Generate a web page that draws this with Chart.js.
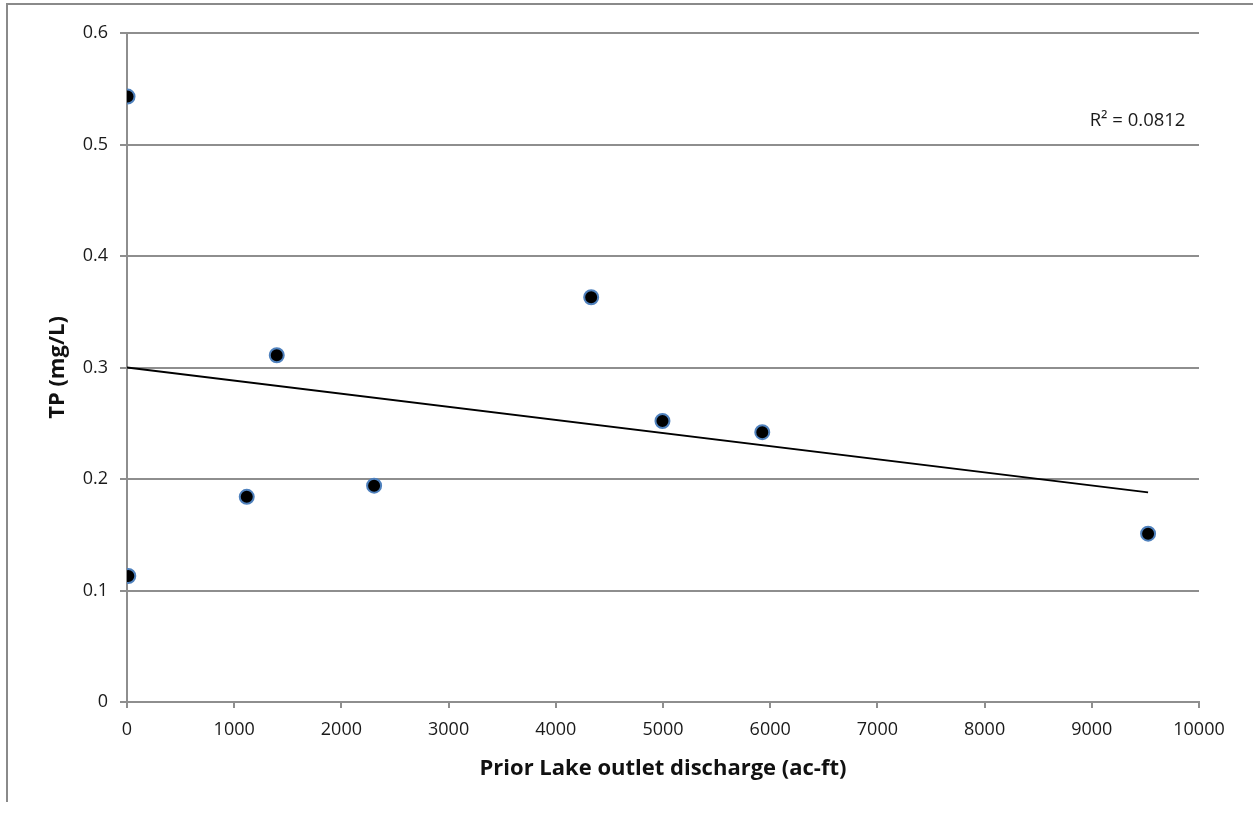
<!DOCTYPE html>
<html>
<head>
<meta charset="utf-8">
<script src="https://cdn.jsdelivr.net/npm/chart.js@4/dist/chart.umd.min.js"></script>
<style>
  html, body { margin: 0; padding: 0; background: #fff; }
  #wrap { position: relative; width: 1253px; height: 814px; overflow: hidden; }
  #frame { position: absolute; left: 6px; top: 3px; width: 1300px; height: 797px;
           border-left: 2px solid #8a8a8a; border-top: 2px solid #8a8a8a; }
  #chart { position: absolute; left: 0; top: 0; }
</style>
</head>
<body>
<div id="wrap">
  <div id="frame"></div>
  <canvas id="chart" width="1253" height="814"></canvas>
</div>
<script>
// Data
var discharge = [5, 12, 1117, 1397, 2305, 4330, 4995, 5926, 9525];
var tp = [0.543, 0.113, 0.184, 0.311, 0.194, 0.363, 0.252, 0.242, 0.151];

// Linear trendline endpoints (as drawn)
var trendX = [0, 9525];
var trendY = [0.300, 0.188];
var rSquared = 'R\u00b2 = 0.0812';

var xTickLabels = ['0', '1000', '2000', '3000', '4000', '5000', '6000', '7000', '8000', '9000', '10000'];
var yTickLabels = ['0', '0.1', '0.2', '0.3', '0.4', '0.5', '0.6'];

var FONT = '"Open Sans", "Liberation Sans", sans-serif';
var GRID = '#8e8e8e';

var points = discharge.map(function (x, i) { return { x: x, y: tp[i] }; });
var trend = trendX.map(function (x, i) { return { x: x, y: trendY[i] }; });

// R² label next to the trendline
var r2Label = {
    id: 'r2Label',
    afterDatasetsDraw: function (chart) {
        var c = chart.ctx;
        var xs = chart.scales.x, ys = chart.scales.y;
        c.save();
        c.font = '18.5px ' + FONT;
        c.fillStyle = '#1a1a1a';
        c.textAlign = 'left';
        c.textBaseline = 'middle';
        c.fillText(rSquared, xs.getPixelForValue(8980), ys.getPixelForValue(0.521));
        c.restore();
    }
};

var ctx = document.getElementById('chart').getContext('2d');
var chart = new Chart(ctx, {
    type: 'scatter',
    data: {
        datasets: [{
            label: 'TP',
            data: points,
            pointRadius: 7,
            pointHoverRadius: 7,
            pointBorderWidth: 2,
            pointBackgroundColor: '#000000',
            pointBorderColor: '#4f81bd'
        }, {
            label: 'Linear trend',
            type: 'line',
            data: trend,
            borderColor: '#000000',
            borderWidth: 2,
            pointRadius: 0,
            fill: false
        }]
    },
    options: {
        responsive: false,
        animation: false,
        layout: { padding: { left: 0, top: 33, right: 54, bottom: 0 } },
        plugins: {
            legend: { display: false },
            tooltip: { enabled: false }
        },
        scales: {
            x: {
                type: 'linear',
                min: 0,
                max: 10000,
                afterFit: function (scale) { scale.height = 112; },
                ticks: {
                    stepSize: 1000,
                    padding: 11,
                    color: '#1a1a1a',
                    font: { family: FONT, size: 18 },
                    maxRotation: 0,
                    callback: function (v, i) { return xTickLabels[i]; }
                },
                grid: {
                    drawOnChartArea: false,
                    drawTicks: true,
                    tickLength: 6,
                    color: GRID,
                    lineWidth: 2
                },
                border: { color: GRID, width: 2 },
                title: {
                    display: true,
                    text: 'Prior Lake outlet discharge (ac-ft)',
                    color: '#111',
                    font: { family: FONT, size: 22, weight: 'bold' },
                    padding: { top: 0, bottom: 32 }
                }
            },
            y: {
                type: 'linear',
                min: 0,
                max: 0.6,
                afterFit: function (scale) { scale.width = 127; },
                ticks: {
                    stepSize: 0.1,
                    padding: 12,
                    color: '#1a1a1a',
                    font: { family: FONT, size: 18 },
                    callback: function (v, i) { return yTickLabels[i]; }
                },
                grid: {
                    drawTicks: true,
                    tickLength: 7,
                    color: GRID,
                    lineWidth: 2
                },
                border: { color: GRID, width: 2 },
                title: {
                    display: true,
                    text: 'TP (mg/L)',
                    color: '#111',
                    font: { family: FONT, size: 22, weight: 'bold' },
                    padding: { top: 45, bottom: 0 }
                }
            }
        }
    },
    plugins: [r2Label]
});
</script>
</body>
</html>
